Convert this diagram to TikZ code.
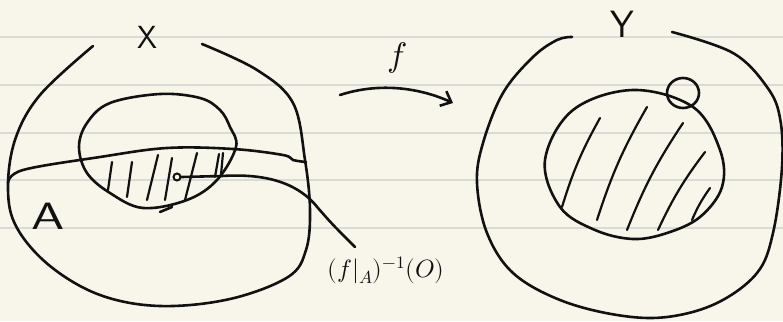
\documentclass[tikz,border=0pt]{standalone}
\usepackage{unicode-math}
\setmathfont{Latin Modern Math}
\usetikzlibrary{arrows.meta}
\definecolor{paper}{HTML}{F8F6EB}
\definecolor{rulegray}{HTML}{DADAD6}
\definecolor{ink}{HTML}{111111}
\begin{document}
\begin{tikzpicture}[x=1pt,y=-1pt,
  pen/.style={draw=ink,line width=2.6pt,line cap=round,line join=round},
  hatchline/.style={pen,line width=2.2pt},
  ruling/.style={draw=rulegray,line width=1.5pt},
  lbl/.style={text=ink,inner sep=0pt}]
\fill[paper] (0,0) rectangle (783,321);
\useasboundingbox (0,0) rectangle (783,321);
\foreach \yy in {37,85,133,180,228} \draw[ruling] (0,\yy) -- (783,\yy);

% ---- set X ----
\draw[pen] plot[smooth,tension=0.6] coordinates {(202,44) (257,70) (293,103) (305,160) (310,210) (306,250) (288,277) (230,299) (160,306) (100,295) (50,266) (17,228) (8,190) (15,140) (40,95) (93,46)};
\draw[pen] plot[smooth cycle,tension=0.6] coordinates {(160,94) (200,98) (220,110) (230,127) (236,147) (217,180) (187,200) (143,208) (110,193) (87,173) (79,147) (87,123) (110,103)};
\draw[pen] plot[smooth,tension=0.6] coordinates {(8,183) (23,170) (100,157) (167,148) (233,149) (283,155) (293,160) (306,162)};
\draw[pen] (160,212) -- (172,207);
% hatching in X
\foreach \xa/\ya/\xb/\yb in {112/162/108/190, 132/162/127/197, 158/155/147/200, 172/158/165/200, 197/153/185/200, 219/154/215/177, 223/153/221/175}
  \draw[hatchline] (\xa,\ya) -- (\xb,\yb);

\node[lbl,font=\sffamily\fontsize{32}{32}\selectfont] (X) at (147,37) {X};
\node[lbl,font=\sffamily\fontsize{38}{38}\selectfont,xscale=1.4] (A) at (48,216) {A};

% point and its label
\node[circle,draw=ink,line width=2pt,minimum size=7pt,inner sep=0pt] (pt) at (177,177) {};
\node[lbl,font=\fontsize{25}{25}\selectfont] (lab) at (386,270) {$(f|_A)^{-1}(O)$};
\coordinate (tip) at (355,247);
\draw[pen] (pt.east) -- (222,176) .. controls (270,173) and (300,185) .. (318,208) .. controls (332,224) .. (tip);

% ---- arrow f ----
\coordinate (a1) at (340,95);
\coordinate (a2) at (453,103);
\draw[pen,-{Straight Barb[length=9pt,width=16pt,line width=2.6pt]}] (a1) .. controls (380,82) and (420,88) .. (a2);
\node[lbl,font=\fontsize{34}{34}\selectfont] (f) at (397,58) {$f$};

% ---- set Y ----
\draw[pen] plot[smooth,tension=0.6] coordinates {(672,32) (733,53) (767,87) (780,118) (782,167) (773,233) (757,273) (717,303) (667,317) (617,315) (560,300) (513,273) (487,233) (477,183) (483,143) (503,93) (533,57) (557,40) (572,37)};
\draw[pen] plot[smooth cycle,tension=0.6] coordinates {(633,90) (693,107) (720,150) (722,187) (700,217) (667,233) (633,239) (595,230) (560,207) (545,160) (573,110)};
\draw[pen] (683,93) ellipse (16 and 15);
\foreach \xa/\ya/\xb/\yb in {600/118/562/207, 647/107/597/220, 683/123/627/230, 705/152/658/230, 710/188/692/220}
  \draw[hatchline] (\xa,\ya) to[bend right=6] (\xb,\yb);
\node[lbl,font=\sffamily\fontsize{38}{38}\selectfont] (Y) at (622,24) {Y};
\end{tikzpicture}
\end{document}
